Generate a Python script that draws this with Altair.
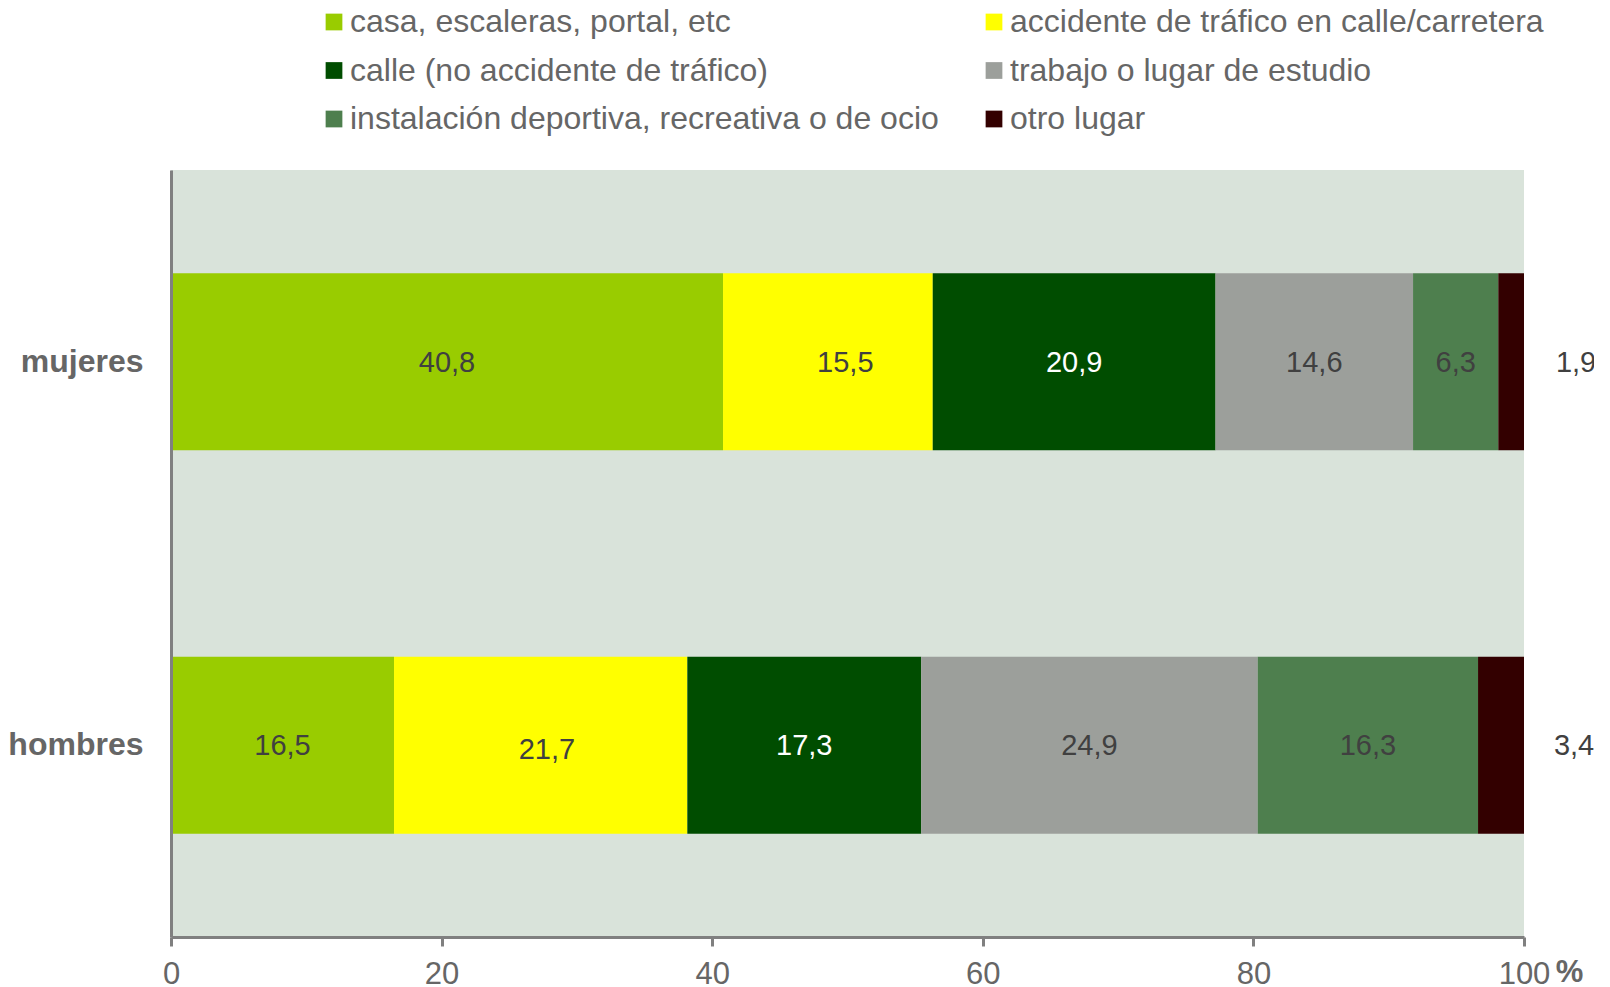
import altair as alt
import pandas as pd

groups = ["mujeres", "hombres"]
places = [
    "casa, escaleras, portal, etc",
    "accidente de tráfico en calle/carretera",
    "calle (no accidente de tráfico)",
    "trabajo o lugar de estudio",
    "instalación deportiva, recreativa o de ocio",
    "otro lugar",
]
mujeres = [40.8, 15.5, 20.9, 14.6, 6.3, 1.9]
hombres = [16.5, 21.7, 17.3, 24.9, 16.3, 3.4]
labels_m = ["40,8", "15,5", "20,9", "14,6", "6,3", "1,9"]
labels_h = ["16,5", "21,7", "17,3", "24,9", "16,3", "3,4"]
colors = ["#99CC00", "#FFFF00", "#004D00", "#9C9F9B", "#4E7F4E", "#330000"]
x_ticks = [0, 0.2, 0.4, 0.6, 0.8, 1]

rows = []
for g, vals, labs in [("mujeres", mujeres, labels_m), ("hombres", hombres, labels_h)]:
    for i, (p, v, l) in enumerate(zip(places, vals, labs)):
        rows.append({"grupo": g, "lugar": p, "valor": v, "etiqueta": l, "orden": i})
df = pd.DataFrame(rows)

FONT = "Liberation Sans"

base = alt.Chart(df).transform_stack(
    stack="valor", groupby=["grupo"], sort=[alt.SortField("orden")],
    offset="normalize", as_=["x0", "x1"],
)

y_enc = alt.Y("grupo:N", sort=groups, scale=alt.Scale(domain=groups), axis=alt.Axis(
    title=None, ticks=False, domain=True, domainColor="#808080", domainWidth=3,
    labelFont=FONT, labelFontSize=32, labelFontWeight="bold", labelColor="#666666",
    labelPadding=28, grid=False, zindex=1,
))

bars = base.mark_bar(size=177).encode(
    y=y_enc,
    x=alt.X("x0:Q", scale=alt.Scale(domain=[0, 1], nice=False, zero=False), axis=alt.Axis(
        values=x_ticks, labelExpr="format(datum.value * 100, 'd')", grid=False,
        domainColor="#808080", domainWidth=3, tickColor="#808080", tickWidth=3, tickSize=9,
        labelFont=FONT, labelFontSize=31, labelColor="#666666", labelPadding=13,
        labelFlush=False, labelOverlap=False,
        title="%", titleFont=FONT, titleFontSize=31, titleFontWeight="bold", titleColor="#666666",
        titleX=1398, titleY=20, titleAnchor="middle",
    )),
    x2="x1:Q",
    color=alt.Color("lugar:N", sort=places, scale=alt.Scale(domain=places, range=colors), legend=alt.Legend(
        title=None, orient="none", legendX=147, legendY=-164, columns=2, direction="horizontal",
        symbolType="square", symbolSize=280, symbolStrokeWidth=0, symbolOffset=0,
        labelFont=FONT, labelFontSize=32, labelColor="#666666", labelOffset=0, labelLimit=800,
        rowPadding=16.5, columnPadding=39, symbolOpacity=1,
    )),
)

text_base = base.transform_calculate(
    pos="datum.orden == 5 ? (datum.grupo == 'mujeres' ? 1.0385 : 1.037)"
        " : datum.orden == 1 ? (datum.x0 + datum.x1) / 2 + (datum.grupo == 'mujeres' ? 0.0129 : 0.0046)"
        " : (datum.x0 + datum.x1) / 2"
)
text_enc = dict(
    y=alt.Y("grupo:N", sort=groups),
    x=alt.X("pos:Q"),
    text="etiqueta:N",
    color=alt.condition("datum.orden == 2", alt.value("#FFFFFF"), alt.value("#404040")),
)
low = "datum.orden == 1 && datum.grupo == 'hombres'"
text = text_base.transform_filter("!(" + low + ")").mark_text(
    font=FONT, fontSize=29, baseline="middle", align="center", dy=1
).encode(**text_enc)
text_low = text_base.transform_filter(low).mark_text(
    font=FONT, fontSize=29, baseline="middle", align="center", dy=5
).encode(**text_enc)

chart = (bars + text + text_low).properties(
    width=1353, height=767,
    padding={"left": 163, "top": 162, "right": 70, "bottom": 50},
    autosize=alt.AutoSizeParams(type="none"),
    background="#FFFFFF",
).configure_view(fill="#D9E3DA", strokeWidth=0)

chart.save("out.html", embed_options={"renderer": "svg", "actions": False})
